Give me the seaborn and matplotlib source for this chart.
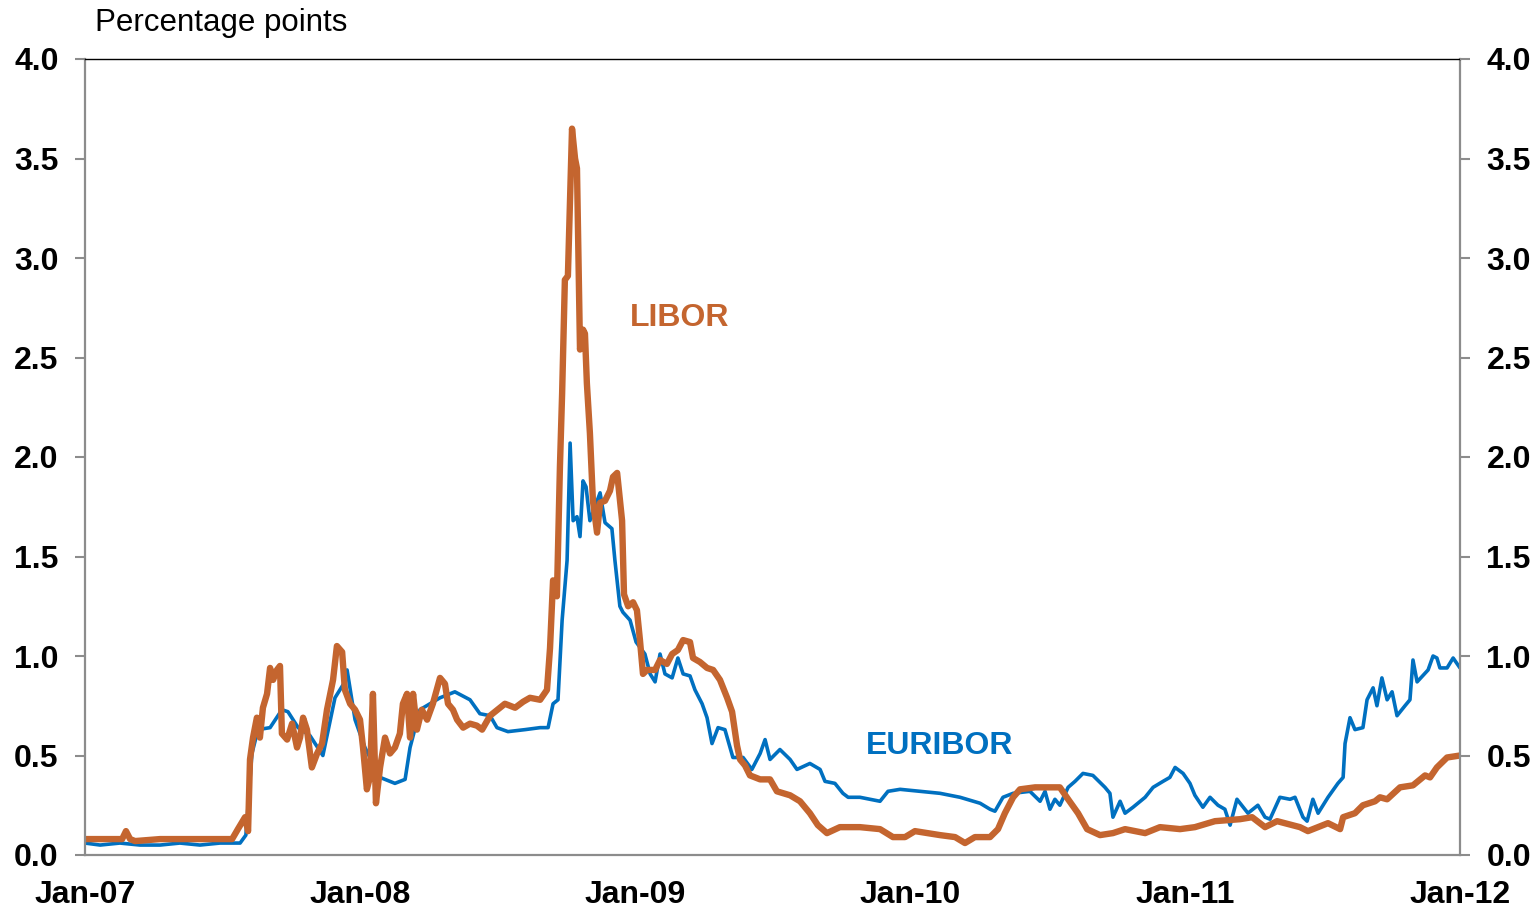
import matplotlib
matplotlib.use("Agg")
import matplotlib.pyplot as plt
import seaborn as sns
import numpy as np
import pandas as pd

# x values are years elapsed since Jan-2007
euribor_t = [0.000, 0.055, 0.127, 0.200, 0.273, 0.345, 0.418, 0.491, 0.564, 0.585,
             0.607, 0.629, 0.673, 0.716, 0.738, 0.775, 0.818, 0.865, 0.909, 0.945,
             0.953, 0.982, 1.018, 1.073, 1.127, 1.164, 1.182, 1.218, 1.291, 1.345,
             1.400, 1.436, 1.473, 1.498, 1.538, 1.600, 1.655, 1.684, 1.702, 1.720,
             1.735, 1.753, 1.764, 1.775, 1.789, 1.800, 1.811, 1.822, 1.836, 1.873,
             1.891, 1.916, 1.927, 1.945, 1.956, 1.982, 2.004, 2.036, 2.055, 2.073,
             2.091, 2.109, 2.135, 2.156, 2.175, 2.200, 2.218, 2.244, 2.262, 2.280,
             2.302, 2.327, 2.356, 2.393, 2.425, 2.455, 2.473, 2.491, 2.527, 2.564,
             2.589, 2.636, 2.673, 2.691, 2.727, 2.756, 2.775, 2.818, 2.855, 2.891,
             2.920, 2.964, 3.036, 3.109, 3.182, 3.255, 3.291, 3.309, 3.338, 3.375,
             3.436, 3.473, 3.491, 3.509, 3.527, 3.545, 3.575, 3.600, 3.629, 3.665,
             3.709, 3.727, 3.738, 3.764, 3.782, 3.811, 3.855, 3.884, 3.920, 3.945,
             3.964, 3.993, 4.018, 4.036, 4.065, 4.091, 4.120, 4.145, 4.164, 4.189,
             4.229, 4.265, 4.291, 4.309, 4.345, 4.382, 4.400, 4.429, 4.444, 4.465,
             4.484, 4.520, 4.556, 4.575, 4.582, 4.600, 4.618, 4.647, 4.662, 4.684,
             4.698, 4.716, 4.735, 4.753, 4.771, 4.800, 4.818, 4.829, 4.844, 4.884,
             4.902, 4.916, 4.927, 4.953, 4.975, 5.000]
euribor_v = [0.06, 0.05, 0.06, 0.05, 0.05, 0.06, 0.05, 0.06, 0.06, 0.10,
             0.51, 0.63, 0.64, 0.73, 0.72, 0.64, 0.60, 0.50, 0.79, 0.87,
             0.93, 0.68, 0.54, 0.39, 0.36, 0.38, 0.54, 0.73, 0.79, 0.82,
             0.78, 0.71, 0.70, 0.64, 0.62, 0.63, 0.64, 0.64, 0.76, 0.78,
             1.18, 1.48, 2.07, 1.68, 1.70, 1.60, 1.88, 1.85, 1.68, 1.82,
             1.67, 1.64, 1.48, 1.25, 1.22, 1.18, 1.07, 1.01, 0.91, 0.87,
             1.01, 0.91, 0.89, 0.99, 0.91, 0.90, 0.83, 0.76, 0.69, 0.56,
             0.64, 0.63, 0.49, 0.49, 0.43, 0.51, 0.58, 0.48, 0.53, 0.48,
             0.43, 0.46, 0.43, 0.37, 0.36, 0.31, 0.29, 0.29, 0.28, 0.27,
             0.32, 0.33, 0.32, 0.31, 0.29, 0.26, 0.23, 0.22, 0.29, 0.31,
             0.32, 0.27, 0.32, 0.23, 0.28, 0.25, 0.34, 0.37, 0.41, 0.40,
             0.34, 0.31, 0.19, 0.27, 0.21, 0.24, 0.29, 0.34, 0.37, 0.39,
             0.44, 0.41, 0.36, 0.30, 0.24, 0.29, 0.25, 0.23, 0.15, 0.28,
             0.21, 0.25, 0.19, 0.18, 0.29, 0.28, 0.29, 0.19, 0.17, 0.28,
             0.21, 0.29, 0.36, 0.39, 0.56, 0.69, 0.63, 0.64, 0.78, 0.84,
             0.75, 0.89, 0.78, 0.82, 0.70, 0.75, 0.78, 0.98, 0.87, 0.93,
             1.00, 0.99, 0.94, 0.94, 0.99, 0.94]

libor_t = [0.000, 0.091, 0.135, 0.149, 0.164, 0.182, 0.273, 0.382, 0.473, 0.535,
           0.556, 0.582, 0.593, 0.600, 0.611, 0.625, 0.636, 0.647, 0.662, 0.673,
           0.684, 0.698, 0.709, 0.716, 0.735, 0.753, 0.771, 0.782, 0.793, 0.807,
           0.825, 0.844, 0.862, 0.880, 0.902, 0.916, 0.935, 0.945, 0.964, 0.982,
           1.000, 1.011, 1.025, 1.036, 1.047, 1.058, 1.073, 1.091, 1.109, 1.127,
           1.145, 1.156, 1.171, 1.182, 1.193, 1.207, 1.225, 1.244, 1.265, 1.291,
           1.309, 1.320, 1.338, 1.353, 1.375, 1.400, 1.425, 1.444, 1.473, 1.527,
           1.564, 1.593, 1.618, 1.655, 1.680, 1.691, 1.702, 1.716, 1.727, 1.735,
           1.745, 1.756, 1.771, 1.782, 1.789, 1.800, 1.811, 1.818, 1.825, 1.836,
           1.847, 1.862, 1.873, 1.891, 1.909, 1.920, 1.935, 1.953, 1.960, 1.975,
           1.993, 2.007, 2.018, 2.029, 2.044, 2.073, 2.091, 2.116, 2.135, 2.156,
           2.175, 2.200, 2.211, 2.236, 2.262, 2.284, 2.309, 2.335, 2.353, 2.371,
           2.382, 2.400, 2.418, 2.455, 2.491, 2.516, 2.564, 2.600, 2.636, 2.665,
           2.698, 2.745, 2.818, 2.891, 2.938, 2.982, 3.018, 3.109, 3.164, 3.200,
           3.236, 3.291, 3.320, 3.345, 3.375, 3.400, 3.455, 3.509, 3.545, 3.575,
           3.611, 3.644, 3.691, 3.738, 3.782, 3.855, 3.909, 3.982, 4.036, 4.109,
           4.200, 4.244, 4.291, 4.335, 4.418, 4.447, 4.484, 4.520, 4.564, 4.575,
           4.618, 4.647, 4.691, 4.709, 4.735, 4.782, 4.829, 4.873, 4.891, 4.916,
           4.953, 5.000]
libor_v = [0.08, 0.08, 0.08, 0.12, 0.08, 0.07, 0.08, 0.08, 0.08, 0.08,
           0.13, 0.19, 0.12, 0.48, 0.59, 0.69, 0.59, 0.74, 0.81, 0.94,
           0.88, 0.93, 0.95, 0.61, 0.58, 0.66, 0.54, 0.59, 0.69, 0.63,
           0.44, 0.51, 0.56, 0.73, 0.88, 1.05, 1.02, 0.83, 0.76, 0.73,
           0.68, 0.54, 0.33, 0.39, 0.81, 0.26, 0.44, 0.59, 0.51, 0.54,
           0.61, 0.76, 0.81, 0.59, 0.81, 0.63, 0.73, 0.68, 0.76, 0.89,
           0.86, 0.76, 0.73, 0.68, 0.64, 0.66, 0.65, 0.63, 0.70, 0.76,
           0.74, 0.77, 0.79, 0.78, 0.83, 1.04, 1.38, 1.30, 1.95, 2.32,
           2.89, 2.91, 3.65, 3.50, 3.45, 2.54, 2.64, 2.62, 2.37, 2.12,
           1.78, 1.62, 1.77, 1.78, 1.83, 1.90, 1.92, 1.68, 1.31, 1.25,
           1.27, 1.23, 1.08, 0.91, 0.93, 0.93, 0.98, 0.96, 1.01, 1.03,
           1.08, 1.07, 0.99, 0.97, 0.94, 0.93, 0.88, 0.79, 0.72, 0.55,
           0.48, 0.45, 0.40, 0.38, 0.38, 0.32, 0.30, 0.27, 0.21, 0.15,
           0.11, 0.14, 0.14, 0.13, 0.09, 0.09, 0.12, 0.10, 0.09, 0.06,
           0.09, 0.09, 0.13, 0.21, 0.29, 0.33, 0.34, 0.34, 0.34, 0.28,
           0.21, 0.13, 0.10, 0.11, 0.13, 0.11, 0.14, 0.13, 0.14, 0.17,
           0.18, 0.19, 0.14, 0.17, 0.14, 0.12, 0.14, 0.16, 0.13, 0.19,
           0.21, 0.25, 0.27, 0.29, 0.28, 0.34, 0.35, 0.40, 0.39, 0.44,
           0.49, 0.50]

year_ticks = [2007, 2008, 2009, 2010, 2011, 2012]
year_labels = ["Jan-07", "Jan-08", "Jan-09", "Jan-10", "Jan-11", "Jan-12"]
y_ticks = [0.0, 0.5, 1.0, 1.5, 2.0, 2.5, 3.0, 3.5, 4.0]

BLUE = "#0070C0"
ORANGE = "#C4652F"
GREY = "#8C8C8C"

sns.set_style("white")
plt.rcParams["font.family"] = ["Liberation Sans", "DejaVu Sans"]
plt.rcParams["text.color"] = "black"
plt.rcParams["xtick.color"] = "black"
plt.rcParams["ytick.color"] = "black"

euribor = pd.DataFrame({"year": 2007 + np.array(euribor_t), "spread": euribor_v})
libor = pd.DataFrame({"year": 2007 + np.array(libor_t), "spread": libor_v})

fig = plt.figure(figsize=(15.38, 9.10), dpi=100)
ax = fig.add_axes([85 / 1538, 55 / 910, 1375 / 1538, 796 / 910])

sns.lineplot(data=euribor, x="year", y="spread", ax=ax, color=BLUE,
             linewidth=2.6, solid_joinstyle="round")
sns.lineplot(data=libor, x="year", y="spread", ax=ax, color=ORANGE,
             linewidth=4.6, solid_joinstyle="round", solid_capstyle="round")

ax.set_xlim(2007, 2012)
ax.set_ylim(0, 4)
ax.set_xlabel("")
ax.set_ylabel("")
ax.set_xticks(year_ticks)
ax.set_xticklabels(year_labels)
ax.set_yticks(y_ticks)
ax.set_yticklabels([f"{v:.1f}" for v in y_ticks])

for side in ["left", "right", "bottom"]:
    ax.spines[side].set_color(GREY)
    ax.spines[side].set_linewidth(1.6)
ax.spines["top"].set_color("black")
ax.spines["top"].set_linewidth(1.0)

ax.tick_params(axis="y", direction="out", length=7, width=1.5, color=GREY,
               labelcolor="black", labelsize=23, pad=12)
ax.tick_params(axis="x", direction="out", length=5, width=1.5, color=GREY,
               labelcolor="black", labelsize=23, pad=13)
for lbl in ax.get_xticklabels() + ax.get_yticklabels():
    lbl.set_fontweight("bold")

ax2 = ax.twinx()
ax2.set_ylim(0, 4)
ax2.set_yticks(y_ticks)
ax2.set_yticklabels([f"{v:.1f}" for v in y_ticks], fontweight="bold")
ax2.tick_params(axis="y", direction="out", length=7, width=1.5, color=GREY,
                labelcolor="black", labelsize=23, pad=12)
for side in ["left", "right", "bottom", "top"]:
    ax2.spines[side].set_visible(False)

fig.text(95 / 1538, 1 - 23 / 910, "Percentage points", fontsize=22.5,
         ha="left", va="center", color="black")
ax.text(2008.983, 2.7, "LIBOR", color=ORANGE, fontsize=23, fontweight="bold",
        ha="left", va="center")
ax.text(2009.84, 0.55, "EURIBOR", color=BLUE, fontsize=23, fontweight="bold",
        ha="left", va="center")

fig.savefig("out.png", dpi=100, facecolor="white")
